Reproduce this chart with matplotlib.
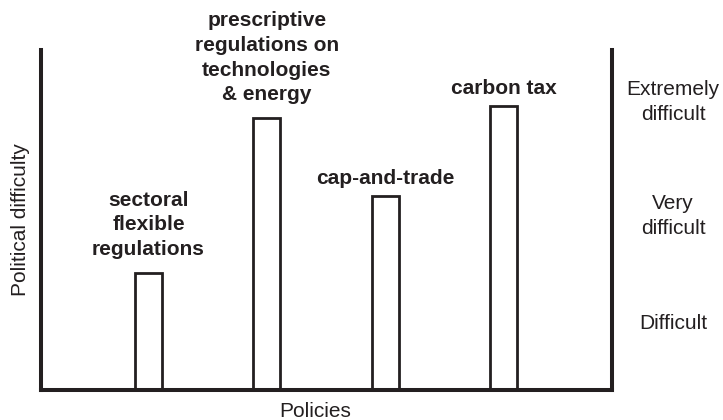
import numpy as np
import matplotlib.pyplot as plt

plt.rcParams['font.family'] = ['Liberation Sans', 'DejaVu Sans']

policies = ['sectoral\nflexible\nregulations',
            'prescriptive\nregulations on\ntechnologies\n& energy',
            'cap-and-trade',
            'carbon tax']
difficulty = [3.45, 8.0, 5.7, 8.35]

levels = ['Difficult', 'Very\ndifficult', 'Extremely\ndifficult']
level_y = [1.97, 5.12, 8.47]

ink = '#231f20'

fig = plt.figure(figsize=(7.23, 4.2), dpi=100)
ax = fig.add_axes([0.0567, 0.0714, 0.7898, 0.8096])

x = np.arange(len(policies))
bars = ax.bar(x, difficulty, width=0.228, color='white', edgecolor=ink,
              linewidth=2.0, zorder=2)

for xi, h, lab in zip(x, difficulty, policies):
    # multi-line labels sit a little higher above their bars
    off = 9.8 if '\n' in lab else 6
    ax.annotate(lab, (xi, h), xytext=(0, off), textcoords='offset points',
                ha='center', va='bottom', fontsize=15, fontweight='bold',
                color=ink, linespacing=1.38)

for ly, lab in zip(level_y, levels):
    ax.text(1.107, ly, lab, transform=ax.get_yaxis_transform(),
            ha='center', va='center', fontsize=15, color=ink,
            linespacing=1.38)

ax.set_xlim(-0.909, 3.917)
ax.set_ylim(0, 10)
ax.set_xticks([])
ax.set_yticks([])
ax.spines['top'].set_visible(False)
for s in ['left', 'right', 'bottom']:
    ax.spines[s].set_linewidth(2.9)
    ax.spines[s].set_color(ink)
    ax.spines[s].set_zorder(3)

ax.set_ylabel('Political difficulty', fontsize=15, color=ink, labelpad=8)
ax.text(0.48, -0.035, 'Policies', transform=ax.transAxes, ha='center',
        va='top', fontsize=15, color=ink)

fig.savefig('out.png', dpi=100)
